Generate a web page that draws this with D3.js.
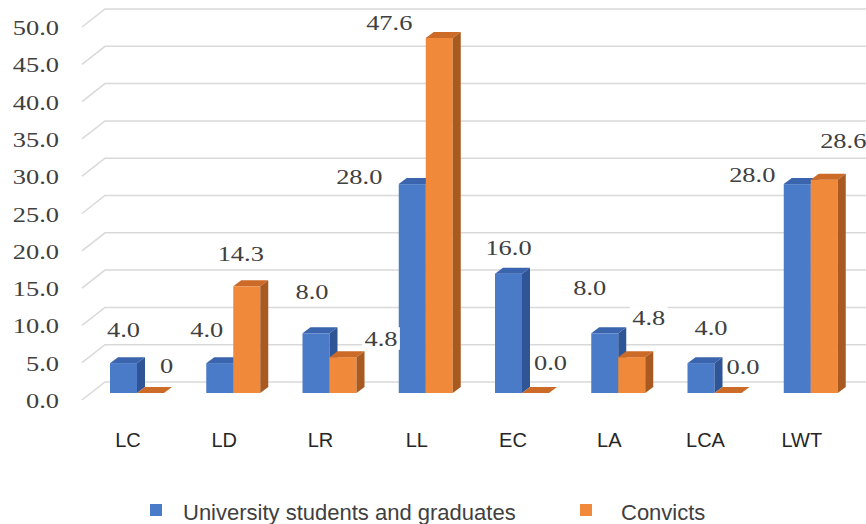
<!DOCTYPE html>
<meta charset="utf-8">
<style>
  body { margin: 0; background: #fff; }
  .ytick, .dlabel { font-family: "Times New Roman", Times, "Liberation Serif", Tinos, "Noto Serif", "DejaVu Serif", "FreeSerif", serif; font-size: 22px; fill: #404040; }
  .xlabel { font-family: "Liberation Sans", Arial, sans-serif; font-size: 20px; fill: #262626; text-anchor: middle; }
  .legend { font-family: "Liberation Sans", Arial, sans-serif; font-size: 22px; fill: #404040; }
</style>
<svg width="866" height="524"></svg>
<script src="https://d3js.org/d3.v7.min.js"></script>
<script>
// data
var categories = ["LC", "LD", "LR", "LL", "EC", "LA", "LCA", "LWT"];
var students = [4.0, 4.0, 8.0, 28.0, 16.0, 8.0, 4.0, 28.0];
var convicts = [0, 14.3, 4.8, 47.6, 0.0, 4.8, 0.0, 28.6];
var convictLabels = ["0", "14.3", "4.8", "47.6", "0.0", "4.8", "0.0", "28.6"];
var yTicks = [0, 5, 10, 15, 20, 25, 30, 35, 40, 45, 50];
var seriesNames = ["University students and graduates", "Convicts"];

// hand placed label offsets (from the bar top) as in the original chart
var studentShift = [[0, -33], [-13, -33], [-4, -41], [-53, -7], [0, -26], [-15, -45], [10, -35], [-45, -9]];
var convictShift = [[16, -27], [-6, -32], [38, -18], [-50, -15], [15, -30], [17, -39], [15, -26], [19, -39]];

var svg = d3.select("svg");

var y = d3.scaleLinear().domain([0, 50]).range([382, 9]);   // back wall
var x = d3.scaleBand().domain(categories).range([96.5, 866.5]);

var depthX = 8, depthY = 6;      // bar depth
var frontDy = 11;                // bar front face below the wall
var barW = 27;
var base = y(0) + frontDy;

var colors = {
  blue: { front: "#4a7bc8", top: "#3a64ad", side: "#2f5597" },
  orange: { front: "#f08a3a", top: "#cc6a28", side: "#a95a20" }
};

// gridlines with left side wall diagonal
var grid = svg.append("g");
yTicks.forEach(function(t) {
  grid.append("path")
    .attr("d", "M82," + (y(t) + 18) + "L105," + y(t) + "L866," + y(t))
    .attr("fill", "none")
    .attr("stroke", "#d9d9d9")
    .attr("stroke-width", 1.5);
  svg.append("text")
    .attr("class", "ytick")
    .attr("text-anchor", "end")
    .attr("transform", "translate(59," + (y(t) + 26) + ") scale(1.2,1)")
    .text(d3.format(".1f")(t));
});

function drawBar(g, xl, v, c) {
  var top = y(v) + frontDy;
  if (v <= 0) {
    g.append("path")
      .attr("d", "M" + xl + "," + base + "L" + (xl + depthX) + "," + (base - depthY) +
        "L" + (xl + barW + depthX) + "," + (base - depthY) + "L" + (xl + barW) + "," + base + "Z")
      .attr("fill", c.top);
    return;
  }
  g.append("rect").attr("x", xl).attr("y", top).attr("width", barW).attr("height", base - top)
    .attr("fill", c.front);
  g.append("path")
    .attr("d", "M" + xl + "," + top + "L" + (xl + depthX) + "," + (top - depthY) +
      "L" + (xl + barW + depthX) + "," + (top - depthY) + "L" + (xl + barW) + "," + top + "Z")
    .attr("fill", c.top);
  g.append("path")
    .attr("d", "M" + (xl + barW) + "," + top + "L" + (xl + barW + depthX) + "," + (top - depthY) +
      "L" + (xl + barW + depthX) + "," + (base - depthY) + "L" + (xl + barW) + "," + base + "Z")
    .attr("fill", c.side);
}

var bars = svg.append("g");
categories.forEach(function(cat, i) {
  drawBar(bars, x(cat) + 13.5, students[i], colors.blue);
  drawBar(bars, x(cat) + 13.5 + barW, convicts[i], colors.orange);
});

// data labels with white boxes
function addLabel(cx, cy, txt) {
  var g = svg.append("g").attr("transform", "translate(" + cx + "," + cy + ") scale(1.2,1)");
  var t = g.append("text").attr("class", "dlabel").attr("text-anchor", "middle")
    .attr("y", 7).text(txt);
  var b = t.node().getBBox();
  g.insert("rect", "text").attr("x", b.x - 2).attr("y", b.y + 1)
    .attr("width", b.width + 4).attr("height", b.height - 2).attr("fill", "#fff");
}

categories.forEach(function(cat, i) {
  var bx = x(cat) + 13.5 + barW / 2;
  addLabel(bx + studentShift[i][0], y(students[i]) + frontDy + studentShift[i][1],
    d3.format(".1f")(students[i]));
  var ox = bx + barW;
  addLabel(ox + convictShift[i][0], y(convicts[i]) + frontDy + convictShift[i][1], convictLabels[i]);
});

// category labels
svg.append("g").selectAll("text")
  .data(categories)
  .join("text")
  .attr("class", "xlabel")
  .attr("x", function(d) { return x(d) + 31.5; })
  .attr("y", 447)
  .text(function(d) { return d; });

// legend
var legendX = [150, 580];
var legendColors = [colors.blue.front, colors.orange.front];
seriesNames.forEach(function(n, i) {
  svg.append("rect").attr("x", legendX[i]).attr("y", 504).attr("width", 12).attr("height", 12)
    .attr("fill", legendColors[i]);
  svg.append("text").attr("class", "legend").attr("x", legendX[i] + [33, 41][i]).attr("y", 520).text(n);
});
</script>
